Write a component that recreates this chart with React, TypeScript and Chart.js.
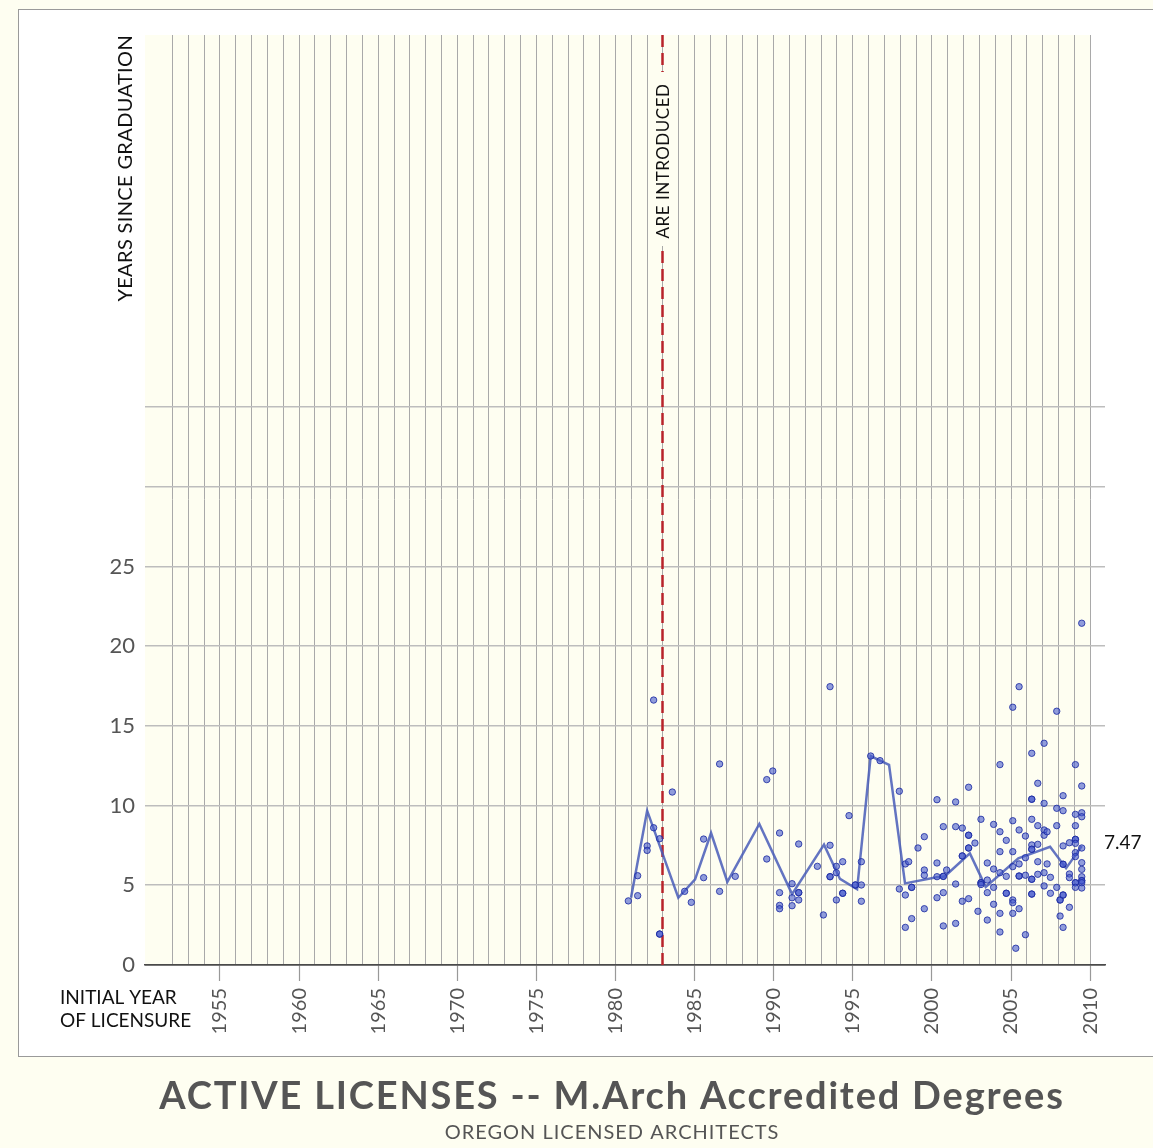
import React, { useEffect, useRef } from "react";
import { Chart, registerables } from "chart.js";

Chart.register(...registerables);

// ---------- data ----------
const xLabelYears = [1955, 1960, 1965, 1970, 1975, 1980, 1985, 1990, 1995, 2000, 2005, 2010];
const yLabelValues = [0, 5, 10, 15, 20, 25];
const yGridValues = [0, 5, 10, 15, 20, 25, 30, 35];
const firstGridYear = 1952;
const lastGridYear = 2010;

const markerYear = 1983;
const markerLabel = "ARE INTRODUCED";
const endLabel = "7.47";

const pointX = [
  1980.81, 1981.4, 1981.4, 1982.0, 1982.0, 1982.41, 1982.41, 1982.79, 1982.79, 1982.79,
  1983.59, 1984.37, 1984.79, 1985.57, 1985.57, 1986.58, 1986.58, 1987.57, 1989.56, 1989.94,
  1989.56, 1990.37, 1990.37, 1990.37, 1990.37, 1991.16, 1991.16, 1991.16, 1991.58, 1991.58,
  1991.58, 1991.58, 1992.76, 1993.14, 1993.56, 1993.56, 1993.56, 1993.56, 1993.96, 1993.96,
  1993.96, 1994.36, 1994.36, 1994.36, 1994.76, 1995.16, 1995.16, 1995.54, 1995.54, 1995.54,
  1996.13, 1996.72, 1997.94, 1997.94,
  1998.32, 1998.53, 1998.32, 1998.32, 1998.72, 1998.72, 1998.72, 1999.12, 1999.52, 1999.52,
  1999.52, 1999.52, 2000.32, 2000.32, 2000.32, 2000.32, 2000.72, 2000.72, 2000.72, 2000.72,
  2000.72, 2000.93, 2001.5, 2001.5, 2001.5, 2001.5, 2001.92, 2001.92, 2001.92, 2001.92,
  2002.32, 2002.32, 2002.32, 2002.32, 2002.32, 2002.32, 2002.72, 2002.91, 2003.1, 2003.1,
  2003.1, 2003.1, 2003.5, 2003.5, 2003.5, 2003.5, 2003.9, 2003.9, 2003.9, 2003.9,
  2004.3, 2004.3, 2004.3, 2004.3, 2004.3, 2004.3, 2004.7, 2004.7, 2004.7, 2004.7,
  2005.11, 2005.11, 2005.11, 2005.11, 2005.11, 2005.11, 2005.11, 2005.3,
  2005.51, 2005.51, 2005.51, 2005.51, 2005.51, 2005.51,
  2005.91, 2005.91, 2005.91, 2005.91,
  2006.31, 2006.31, 2006.31, 2006.31, 2006.31, 2006.31, 2006.31, 2006.31, 2006.31, 2006.31, 2006.31,
  2006.69, 2006.69, 2006.69, 2006.69, 2006.69,
  2007.09, 2007.09, 2007.09, 2007.09, 2007.09, 2007.09,
  2007.28, 2007.28, 2007.49, 2007.49,
  2007.89, 2007.89, 2007.89, 2007.89,
  2008.1, 2008.1, 2008.1,
  2008.29, 2008.29, 2008.29, 2008.29, 2008.29, 2008.29, 2008.29, 2008.29,
  2008.69, 2008.69, 2008.69, 2008.69,
  2009.07, 2009.07, 2009.07, 2009.07, 2009.07, 2009.07, 2009.07, 2009.07, 2009.07, 2009.07, 2009.07,
  2009.47, 2009.47, 2009.47, 2009.47, 2009.47, 2009.47, 2009.47, 2009.47, 2009.47, 2009.47, 2009.47, 2009.47,
];
const pointY = [
  4.02, 4.35, 5.6, 7.47, 7.19, 16.62, 8.61, 7.92, 1.94, 1.94,
  10.85, 4.62, 3.93, 7.9, 5.48, 12.61, 4.62, 5.56, 11.63, 12.17,
  6.65, 8.28, 4.54, 3.74, 3.53, 5.1, 4.22, 3.72, 4.54, 4.54,
  4.08, 7.59, 6.19, 3.14, 17.46, 7.51, 5.54, 5.54, 6.19, 5.79,
  4.08, 6.48, 4.5, 4.5, 9.37, 5.02, 5.02, 5.02, 6.48, 4.0,
  13.11, 12.82, 10.9, 4.77,
  6.34, 6.48, 4.39, 2.36, 4.87, 4.87, 2.91, 7.34, 8.05, 5.96,
  5.63, 3.53, 10.37, 6.4, 5.54, 4.22, 8.68, 5.56, 5.56, 4.54,
  2.45, 5.96, 10.23, 8.68, 5.08, 2.61, 8.59, 6.84, 6.84, 4.0,
  11.15, 8.14, 8.14, 7.34, 7.34, 4.16, 7.65, 3.37, 9.14, 5.16,
  5.16, 5.05, 6.4, 5.33, 4.54, 2.82, 8.82, 6.02, 4.87, 3.81,
  12.57, 8.36, 7.11, 5.79, 3.24, 2.07, 7.82, 5.56, 4.5, 4.5,
  16.17, 9.05, 7.11, 6.17, 4.08, 3.91, 3.24, 1.05,
  17.46, 8.47, 6.34, 5.58, 5.58, 3.53,
  8.09, 6.73, 5.63, 1.9,
  13.28, 10.4, 10.4, 9.14, 7.53, 7.26, 7.26, 5.38, 5.38, 4.45, 4.45,
  11.4, 8.74, 7.57, 6.48, 5.69,
  13.91, 10.14, 8.47, 8.14, 5.79, 4.96,
  8.36, 6.34, 5.5, 4.5,
  15.92, 9.83, 8.74, 4.87,
  4.08, 4.08, 3.07,
  10.62, 9.68, 7.47, 6.32, 6.32, 4.39, 4.39, 2.36,
  7.67, 5.71, 5.48, 3.62,
  12.57, 9.45, 8.74, 7.88, 7.88, 7.63, 7.05, 6.8, 5.16, 5.16, 4.87,
  21.44, 11.23, 9.55, 9.3, 7.34, 6.42, 6.0, 5.54, 5.29, 5.29, 5.16, 4.83,
];

const trendX = [
  1980.98, 1982.0, 1983.97, 1985.03, 1986.04, 1987.07, 1989.09, 1991.16, 1993.18, 1994.19,
  1995.27, 1996.13, 1996.72, 1997.29, 1998.3, 2000.3, 2000.8, 2002.4, 2003.4, 2005.46,
  2007.47, 2008.48, 2009.05, 2009.47,
];
const trendY = [
  4.22, 9.68, 4.22, 5.37, 8.28, 5.21, 8.85, 4.45, 7.55, 5.4,
  4.75, 13.11, 12.82, 12.55, 5.12, 5.5, 5.55, 7.0, 4.9, 6.69,
  7.42, 6.07, 6.86, 7.47,
];

// ---------- styles ----------
const FONT = "Lato, 'Open Sans', 'DejaVu Sans', sans-serif";
const CREAM = "#fefef1";
const TEXT_GRAY = "#555555";

const gridYears: number[] = [];
for (let yr = firstGridYear; yr <= lastGridYear; yr++) gridYears.push(yr);

function spaced(ctx: any, px: number) {
  try {
    ctx.letterSpacing = `${px}px`;
  } catch (e) {
    /* ignore */
  }
}

const extrasPlugin = {
  id: "extras",
  beforeDraw(chart: any) {
    const { ctx, chartArea: a, scales } = chart;
    const xr = scales.x.getPixelForValue(lastGridYear);
    ctx.save();
    ctx.fillStyle = CREAM;
    ctx.fillRect(a.left, a.top, xr - a.left, a.bottom - a.top);
    ctx.restore();
  },
  beforeDatasetsDraw(chart: any) {
    const { ctx, chartArea: a, scales } = chart;
    const mx = Math.round(scales.x.getPixelForValue(markerYear)) - 0.5;
    ctx.save();
    ctx.strokeStyle = "#b8232a";
    ctx.lineWidth = 2.5;
    ctx.setLineDash([12, 6]);
    ctx.beginPath();
    ctx.moveTo(mx, a.top);
    ctx.lineTo(mx, a.bottom);
    ctx.stroke();
    ctx.setLineDash([]);
    // label background
    ctx.fillStyle = CREAM;
    ctx.fillRect(mx - 10, 72, 20, 174);
    ctx.translate(mx + 1, 161);
    ctx.rotate(-Math.PI / 2);
    ctx.fillStyle = "#111";
    ctx.font = `17px ${FONT}`;
    spaced(ctx, 0.5);
    ctx.textAlign = "center";
    ctx.textBaseline = "middle";
    ctx.fillText(markerLabel, 0, 0);
    ctx.restore();
  },
  afterDraw(chart: any) {
    const { ctx, chartArea: a } = chart;
    ctx.save();
    // y axis title
    ctx.save();
    ctx.translate(126, a.top);
    ctx.rotate(-Math.PI / 2);
    ctx.fillStyle = "#111";
    ctx.font = `20px ${FONT}`;
    spaced(ctx, 0.35);
    ctx.textAlign = "right";
    ctx.textBaseline = "middle";
    ctx.fillText("YEARS SINCE GRADUATION", 0, 0);
    ctx.restore();
    // x axis title
    ctx.fillStyle = "#111";
    ctx.font = `19px ${FONT}`;
    spaced(ctx, 0);
    ctx.textAlign = "left";
    ctx.textBaseline = "middle";
    ctx.fillText("INITIAL YEAR", 60, 998);
    ctx.fillText("OF LICENSURE", 60, 1021);
    // end label
    ctx.fillText(endLabel, 1104, 843);
    // titles
    ctx.fillStyle = TEXT_GRAY;
    ctx.textAlign = "center";
    ctx.font = `bold 38px ${FONT}`;
    spaced(ctx, 1.8);
    ctx.fillText("ACTIVE LICENSES -- M.Arch Accredited Degrees", 612, 1097);
    ctx.font = `20px ${FONT}`;
    spaced(ctx, 1);
    ctx.fillText("OREGON LICENSED ARCHITECTS", 612, 1133);
    ctx.restore();
  },
};

export default function App() {
  const canvasRef = useRef<HTMLCanvasElement | null>(null);

  useEffect(() => {
    const canvas = canvasRef.current;
    if (!canvas) return;
    const points = pointX.map((x, i) => ({ x, y: pointY[i] }));
    const trend = trendX.map((x, i) => ({ x, y: trendY[i] }));

    const chart = new Chart(canvas, {
      type: "scatter",
      data: {
        datasets: [
          {
            type: "line",
            data: trend,
            borderColor: "rgba(72, 92, 185, 0.85)",
            borderWidth: 2.5,
            pointRadius: 0,
            tension: 0,
            fill: false,
            order: 1,
          } as any,
          {
            type: "scatter",
            data: points,
            backgroundColor: "rgba(70, 90, 205, 0.6)",
            borderColor: "rgba(25, 40, 160, 0.8)",
            borderWidth: 1,
            pointRadius: 3.2,
            order: 0,
          } as any,
        ],
      },
      options: {
        animation: false,
        responsive: false,
        maintainAspectRatio: false,
        layout: { padding: { left: 0, top: 35, right: 48, bottom: 0 } },
        plugins: { legend: { display: false }, tooltip: { enabled: false } },
        scales: {
          x: {
            type: "linear",
            min: 1950.26,
            max: 2010.94,
            afterBuildTicks: (s: any) => {
              s.ticks = gridYears.map((v) => ({ value: v }));
            },
            afterFit: (s: any) => {
              s.height = 183;
            },
            grid: {
              color: "#a9a9a9",
              lineWidth: 1,
              drawTicks: true,
              tickLength: 16,
              tickWidth: 1.2,
              tickColor: (c: any) =>
                c.tick && xLabelYears.includes(c.tick.value) ? "#999" : "rgba(0,0,0,0)",
            },
            border: { display: true, color: "#4a4a4a", width: 1.5 },
            ticks: {
              autoSkip: false,
              maxRotation: 90,
              minRotation: 90,
              padding: 7,
              color: TEXT_GRAY,
              font: { family: FONT, size: 20 },
              callback: (v: any) => (xLabelYears.includes(v) ? String(v) : ""),
            },
          },
          y: {
            type: "linear",
            min: 0,
            max: 58.34,
            afterBuildTicks: (s: any) => {
              s.ticks = yGridValues.map((v) => ({ value: v }));
            },
            afterFit: (s: any) => {
              s.width = 145;
            },
            grid: {
              color: (c: any) => (c.tick && c.tick.value === 0 ? "#4a4a4a" : "#bdbdbd"),
              lineWidth: 1.6,
              drawTicks: false,
            },
            border: { display: false },
            ticks: {
              padding: 10,
              color: TEXT_GRAY,
              font: { family: FONT, size: 22 },
              callback: (v: any) => (yLabelValues.includes(v) ? String(v) : ""),
            },
          },
        },
      },
      plugins: [extrasPlugin],
    });

    return () => chart.destroy();
  }, []);

  return (
    <div
      style={{
        position: "fixed",
        left: 0,
        top: 0,
        width: 1153,
        height: 1148,
        overflow: "hidden",
        background: CREAM,
      }}
    >
      <div
        style={{
          position: "absolute",
          left: 18,
          top: 9,
          width: 1200,
          height: 1046,
          border: "1px solid #9a9a9a",
          background: "#ffffff",
        }}
      />
      <canvas
        ref={canvasRef}
        width={1153}
        height={1148}
        style={{ position: "absolute", left: 0, top: 0, display: "block" }}
      />
    </div>
  );
}
